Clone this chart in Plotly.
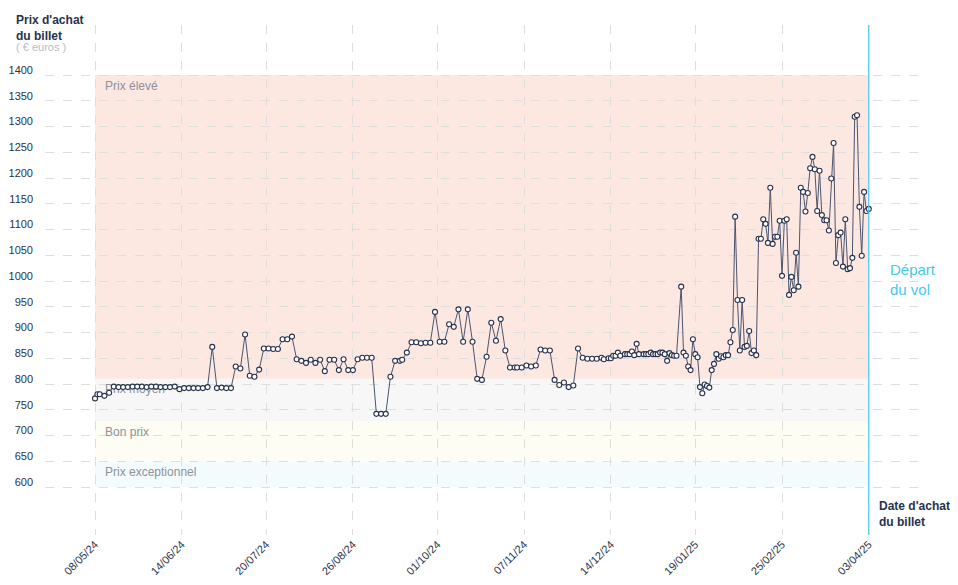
import plotly.graph_objects as go

# ---------------- data ----------------
dates = [
    "2024-05-08", "2024-05-09", "2024-05-10", "2024-05-12", "2024-05-14", "2024-05-16", "2024-05-18",
    "2024-05-20", "2024-05-22", "2024-05-24", "2024-05-26", "2024-05-28", "2024-05-30", "2024-06-01",
    "2024-06-03", "2024-06-05", "2024-06-07", "2024-06-09", "2024-06-11", "2024-06-13", "2024-06-15",
    "2024-06-17", "2024-06-19", "2024-06-21", "2024-06-23", "2024-06-25", "2024-06-27", "2024-06-29",
    "2024-07-01", "2024-07-03", "2024-07-05", "2024-07-07", "2024-07-09", "2024-07-11", "2024-07-13",
    "2024-07-15", "2024-07-17", "2024-07-19", "2024-07-21",
    "2024-07-23", "2024-07-25", "2024-07-27", "2024-07-29", "2024-07-31", "2024-08-02", "2024-08-04",
    "2024-08-06", "2024-08-08", "2024-08-10", "2024-08-12", "2024-08-14", "2024-08-16", "2024-08-18",
    "2024-08-20", "2024-08-22", "2024-08-24", "2024-08-26", "2024-08-28", "2024-08-30", "2024-09-01",
    "2024-09-03", "2024-09-05", "2024-09-07", "2024-09-09", "2024-09-11", "2024-09-13", "2024-09-15",
    "2024-09-16", "2024-09-18", "2024-09-20", "2024-09-22", "2024-09-24", "2024-09-26", "2024-09-28",
    "2024-09-30", "2024-10-02",
    "2024-10-04", "2024-10-06", "2024-10-08", "2024-10-10", "2024-10-12", "2024-10-14", "2024-10-16",
    "2024-10-18", "2024-10-20", "2024-10-22", "2024-10-24", "2024-10-26", "2024-10-28", "2024-10-30",
    "2024-11-01", "2024-11-03", "2024-11-04", "2024-11-06", "2024-11-08", "2024-11-10", "2024-11-12",
    "2024-11-14", "2024-11-16", "2024-11-18", "2024-11-20", "2024-11-22", "2024-11-24", "2024-11-26",
    "2024-11-28", "2024-11-30", "2024-12-02", "2024-12-04", "2024-12-06", "2024-12-08", "2024-12-10",
    "2024-12-11", "2024-12-13", "2024-12-14", "2024-12-15", "2024-12-16", "2024-12-17", "2024-12-18",
    "2024-12-20", "2024-12-21", "2024-12-22", "2024-12-23", "2024-12-24", "2024-12-25", "2024-12-26",
    "2024-12-28", "2024-12-29", "2024-12-30", "2024-12-31", "2025-01-01", "2025-01-02", "2025-01-03",
    "2025-01-04", "2025-01-05", "2025-01-06", "2025-01-07", "2025-01-08", "2025-01-09", "2025-01-10",
    "2025-01-11", "2025-01-13", "2025-01-14", "2025-01-15", "2025-01-16", "2025-01-17", "2025-01-18",
    "2025-01-19", "2025-01-20", "2025-01-21", "2025-01-22", "2025-01-23", "2025-01-24", "2025-01-25",
    "2025-01-26", "2025-01-27", "2025-01-28", "2025-01-29", "2025-01-30", "2025-01-31", "2025-02-01",
    "2025-02-02", "2025-02-03", "2025-02-04", "2025-02-05", "2025-02-06", "2025-02-07", "2025-02-08",
    "2025-02-09", "2025-02-10", "2025-02-11", "2025-02-12", "2025-02-13", "2025-02-14",
    "2025-02-15", "2025-02-16", "2025-02-17", "2025-02-18", "2025-02-19", "2025-02-20", "2025-02-21",
    "2025-02-22", "2025-02-23", "2025-02-24", "2025-02-25", "2025-02-26", "2025-02-27", "2025-02-28",
    "2025-03-01", "2025-03-02", "2025-03-03", "2025-03-04", "2025-03-05", "2025-03-06", "2025-03-07",
    "2025-03-08", "2025-03-09", "2025-03-10", "2025-03-11", "2025-03-12", "2025-03-13", "2025-03-14",
    "2025-03-15", "2025-03-16", "2025-03-17", "2025-03-18", "2025-03-19", "2025-03-20", "2025-03-21",
    "2025-03-22", "2025-03-23", "2025-03-24", "2025-03-25", "2025-03-26", "2025-03-27", "2025-03-28",
    "2025-03-29", "2025-03-30", "2025-03-31", "2025-04-01", "2025-04-02", "2025-04-03",
]

prices = [
    772, 780, 780, 777, 783, 795, 794,
    794, 794, 795, 795, 795, 794, 795,
    795, 794, 794, 794, 795, 790, 792,
    792, 792, 792, 792, 794, 872, 792,
    793, 792, 792, 834, 830, 896, 816,
    814, 828, 869, 869,
    868, 868, 887, 887, 892, 848, 845,
    841, 847, 841, 847, 825, 847, 847,
    827, 848, 827, 827, 848, 851, 851,
    851, 742, 742, 742, 814, 845, 845,
    847, 861, 881, 881, 879, 880, 880,
    940, 882,
    882, 916, 911, 945, 882, 945, 882,
    810, 808, 853, 919, 884, 926, 865,
    832, 832, 832, 832, 836, 834, 836,
    867, 865, 865, 808, 798, 803, 794,
    797, 869, 851, 849, 849, 849, 851,
    848, 850, 850, 855, 855, 861, 855,
    858, 858, 858, 863, 856, 878, 858,
    858, 858, 858, 861, 858, 858, 858,
    861, 861, 858, 845, 860, 856, 855,
    855, 989, 861, 855, 834, 827, 887,
    858, 852, 794, 782, 799, 796, 793,
    827, 839, 858, 849, 854, 852, 856,
    856, 881, 905, 1125, 963, 865, 963,
    872, 874, 903, 860, 865, 856,
    1082, 1082, 1120, 1111, 1074, 1181, 1072,
    1086, 1086, 1117, 1010, 1117, 1120, 973,
    1008, 982, 1055, 989, 1181, 1173, 1135,
    1171, 1219, 1241, 1217, 1136, 1214, 1128,
    1118, 1118, 1098, 1199, 1268, 1035, 1089,
    1094, 1028, 1120, 1023, 1025, 1045, 1319,
    1322, 1144, 1049, 1173, 1136, 1140,
]

band_names = ["Prix exceptionnel", "Bon prix", "Prix moyen", "Prix élevé"]
band_low = [600, 650, 728, 810]
band_high = [650, 728, 810, 1400]
band_colors = ["#f3fbfd", "#fdfdf3", "#f7f7f7", "#fde7e1"]

tick_dates = ["2024-05-08", "2024-06-14", "2024-07-20", "2024-08-26", "2024-10-01",
              "2024-11-07", "2024-12-14", "2025-01-19", "2025-02-25", "2025-04-03"]
tick_labels = ["08/05/24", "14/06/24", "20/07/24", "26/08/24", "01/10/24",
               "07/11/24", "14/12/24", "19/01/25", "25/02/25", "03/04/25"]
y_ticks = [600, 650, 700, 750, 800, 850, 900, 950, 1000, 1050, 1100, 1150,
           1200, 1250, 1300, 1350, 1400]

start_date = "2024-05-08"
depart_date = "2025-04-03"

# ---------------- figure ----------------
NAVY = "#27324d"
GRID = "#dedede"
LABEL = "#8d929b"
CYAN = "#45c9ee"
FONT = "Liberation Sans, Arial, sans-serif"

# page body has an 8px default margin
OFF = 8
W, H = 958 - OFF, 585 - OFF
L, R, T, B = 45 - OFF, 40, 25 - OFF, 50
PW, PH = W - L - R, H - T - B
Y0, Y1 = 506.8, 1497.1
PX_PER_UNIT = PH / (Y1 - Y0)


def px(xp):
    return (xp - OFF - L) / PW


def py(yp):
    return (H - B - (yp - OFF)) / PH


fig = go.Figure()

# band labels (as a trace so data marks are drawn on top); placed just under each band top
fig.add_trace(go.Scatter(
    x=[start_date] * len(band_names),
    y=band_high,
    mode="text",
    text=["   " + n for n in band_names],
    textposition="middle right",
    textfont=dict(family=FONT, size=12, color=LABEL),
    hoverinfo="skip",
    showlegend=False,
))
fig.data[0].y = tuple(h - 11.5 / PX_PER_UNIT for h in band_high)

fig.add_trace(go.Scatter(
    x=dates, y=prices,
    mode="lines+markers",
    line=dict(color="#4b5570", width=1),
    marker=dict(size=5, color="white", line=dict(color=NAVY, width=1.1)),
    showlegend=False,
))

shapes = []
for lo, hi, col in zip(band_low, band_high, band_colors):
    shapes.append(dict(type="rect", xref="x", yref="y", x0=start_date, x1=depart_date,
                       y0=lo, y1=hi, fillcolor=col, line=dict(width=0), layer="below"))
shapes.append(dict(type="line", xref="x", yref="paper", x0=depart_date, x1=depart_date,
                   y0=0, y1=1, line=dict(color=CYAN, width=1.2), layer="above"))

annotations = [
    dict(text="<b>Prix d'achat<br>du billet</b>", x=px(14), y=py(11), xref="paper", yref="paper",
         xanchor="left", yanchor="top", align="left", showarrow=False,
         font=dict(family=FONT, size=12, color=NAVY)),
    dict(text="( € euros )", x=px(14), y=py(47), xref="paper", yref="paper",
         xanchor="left", yanchor="middle", align="left", showarrow=False,
         font=dict(family=FONT, size=11, color="#b8bcc2")),
    dict(text="Départ<br>du vol", x=px(888), y=py(259), xref="paper", yref="paper",
         xanchor="left", yanchor="top", align="left", showarrow=False,
         font=dict(family=FONT, size=15, color=CYAN)),
    dict(text="<b>Date d'achat<br>du billet</b>", x=px(877), y=py(497), xref="paper", yref="paper",
         xanchor="left", yanchor="top", align="left", showarrow=False,
         font=dict(family=FONT, size=12, color=NAVY)),
]

fig.update_layout(
    width=W, height=H,
    margin=dict(l=L, r=R, t=T, b=B, autoexpand=False),
    paper_bgcolor="white", plot_bgcolor="white",
    shapes=shapes, annotations=annotations,
    font=dict(family=FONT, size=11, color=NAVY),
    hovermode="closest",
)
fig.update_xaxes(
    type="date", range=["2024-04-16 16:00", "2025-04-24 00:00"],
    tickmode="array", tickvals=tick_dates, ticktext=tick_labels, tickangle=-45,
    showgrid=True, gridcolor=GRID, griddash="dash", gridwidth=1,
    zeroline=False, showline=False, ticks="", automargin=False,
    tickfont=dict(family=FONT, size=11, color=NAVY),
)
fig.update_yaxes(
    range=[Y0, Y1],
    tickmode="array", tickvals=y_ticks, ticktext=[str(v) for v in y_ticks],
    showgrid=True, gridcolor=GRID, griddash="dash", gridwidth=1,
    zeroline=False, showline=False, ticks="", automargin=False,
    ticklabelshift=-5, ticklabelstandoff=11,
    tickfont=dict(family=FONT, size=11, color=NAVY),
)

fig.write_html("out.html")
